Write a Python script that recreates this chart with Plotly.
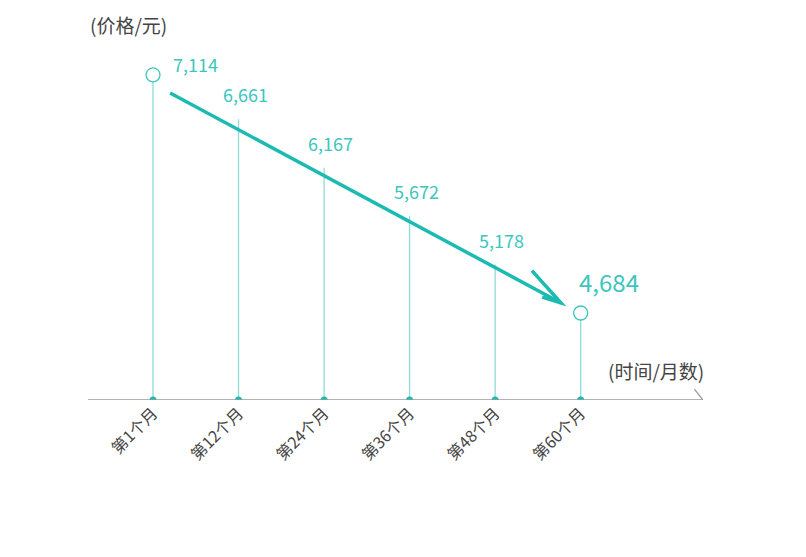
import plotly.graph_objects as go

months = ["第1个月", "第12个月", "第24个月", "第36个月", "第48个月", "第60个月"]
prices = [7114, 6661, 6167, 5672, 5178, 4684]
labels = ["7,114", "6,661", "6,167", "5,672", "5,178", "4,684"]

xs = list(range(1, len(months) + 1))
FONT = "Noto Sans CJK SC"
STEM = "#8fdcd6"
TEAL = "#1bbab2"
TXT = "#3cc6be"
BASE = 3796

fig = go.Figure()
for x, p in zip(xs, prices):
    fig.add_trace(go.Scatter(x=[x, x], y=[BASE, p], mode="lines",
                             line=dict(color=STEM, width=1.3), hoverinfo="skip", showlegend=False))
fig.add_trace(go.Scatter(x=xs, y=[BASE] * len(xs), mode="markers",
                         marker=dict(color=TEAL, size=7), showlegend=False))
fig.add_trace(go.Scatter(x=[xs[0], xs[-1]], y=[prices[0], prices[-1]], mode="markers",
                         marker=dict(color="white", size=14, line=dict(color=TXT, width=1.3)),
                         showlegend=False))

for i, (x, p, t) in enumerate(zip(xs, prices, labels)):
    last = i == len(xs) - 1
    if i == 0:
        xs_, ys_ = 18, -4
    elif last:
        xs_, ys_ = -4, 12
    else:
        xs_, ys_ = -18, 10
    fig.add_annotation(x=x, y=p, text=t, showarrow=False, xanchor="left", yanchor="bottom",
                       xshift=xs_, yshift=ys_,
                       font=dict(family=FONT, size=24 if last else 18, color=TXT))

# x-axis line with arrow
fig.add_shape(type="line", xref="paper", yref="y", x0=0, x1=1, y0=BASE, y1=BASE,
              line=dict(color="#999", width=1.3))
fig.add_shape(type="path", xref="x", yref="y",
              path=f"M 7.33 {BASE+110} L 7.43 {BASE} L 7.33 {BASE-110}",
              line=dict(color="#999", width=1.3))

# trend arrow
x0, y0, x1, y1 = 1.2, 6929, 5.77, 4786
fig.add_shape(type="line", xref="x", yref="y", x0=x0, y0=y0, x1=x1, y1=y1,
              line=dict(color=TEAL, width=3.5))
fig.add_shape(type="path", xref="x", yref="y",
              path=f"M 5.55 {y1+60} L {x1} {y1} L 5.43 {y1+330}",
              line=dict(color=TEAL, width=3.5))

fig.add_annotation(xref="paper", yref="paper", x=0, y=1, xanchor="left", yanchor="bottom",
                   text="(价格/元)", showarrow=False, font=dict(family=FONT, size=19, color="#444"),
                   yshift=-12)
fig.add_annotation(x=7.12, y=BASE + 300, xanchor="right", yanchor="middle", text="(时间/月数)",
                   showarrow=False, font=dict(family=FONT, size=19, color="#444"), xshift=30)
fig.add_annotation(xref="paper", yref="paper", x=0, y=-0.58, xanchor="left", yanchor="top",
                   text="*以2020年生产、行驶里程34,000km的ES6为例<br> 具体信息以实际报价为准",
                   showarrow=False, align="left", font=dict(family=FONT, size=16, color="#444"))

fig.update_layout(
    width=806, height=557, plot_bgcolor="white", paper_bgcolor="white",
    margin=dict(l=80, r=111, t=20, b=165),
    xaxis=dict(range=[0.24, 7.43], tickvals=xs, ticktext=months, tickangle=-45,
               showgrid=False, zeroline=False, showline=False,
               tickfont=dict(family=FONT, size=16, color="#444")),
    yaxis=dict(range=[BASE, 7592], visible=False),
    showlegend=False,
)
fig.write_html("out.html")
